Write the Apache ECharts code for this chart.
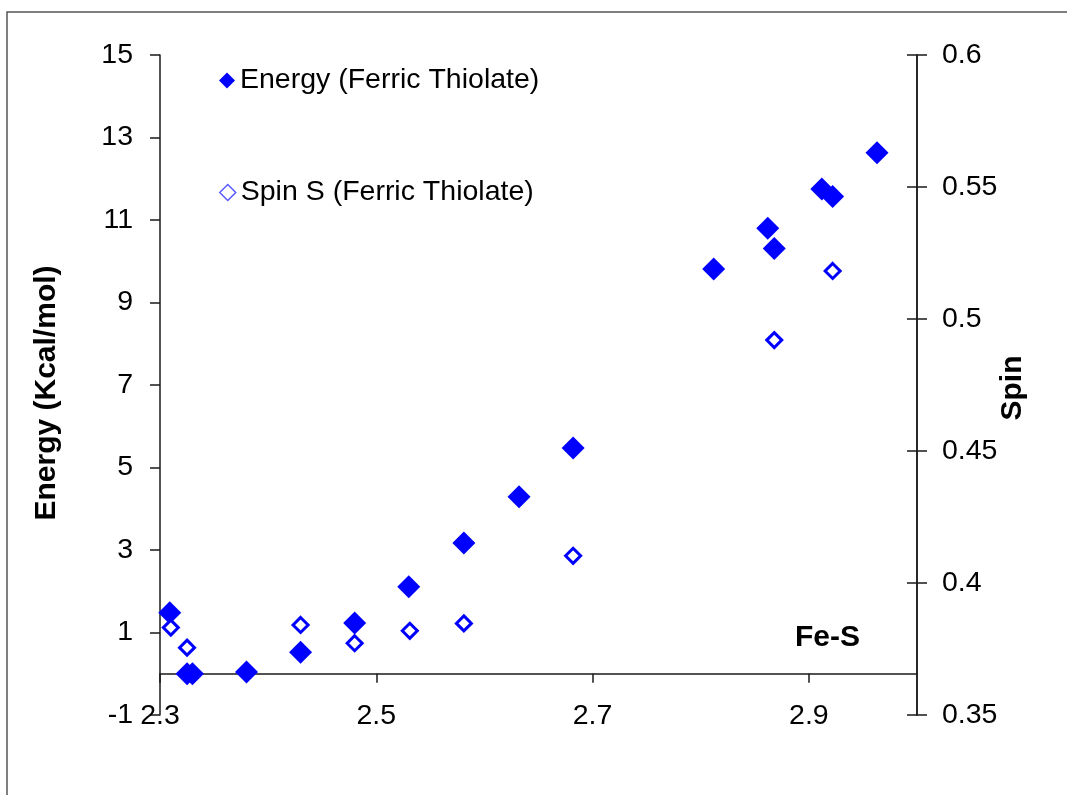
<!DOCTYPE html>
<html>
<head>
<meta charset="utf-8">
<script src="https://cdn.jsdelivr.net/npm/echarts@6/dist/echarts.min.js"></script>
<style>
  html, body { margin: 0; padding: 0; background: #fff; }
  #chart { width: 1067px; height: 795px; }
</style>
</head>
<body>
<div id="chart"></div>
<script>
// Fe-S distance (Å) and relative energy (kcal/mol), ferric thiolate scan
const feSEnergy = [2.309, 2.325, 2.330, 2.380, 2.430, 2.480, 2.530, 2.581, 2.632, 2.682, 2.812, 2.862, 2.868, 2.912, 2.922, 2.963];
const energyValues = [1.48, 0.0, 0.0, 0.04, 0.52, 1.23, 2.11, 3.17, 4.29, 5.47, 9.81, 10.80, 10.31, 11.75, 11.57, 12.63];

// Fe-S distance (Å) and spin density on S
const feSSpin = [2.310, 2.325, 2.430, 2.480, 2.531, 2.581, 2.682, 2.868, 2.922];
const spinValues = [0.3831, 0.3755, 0.3841, 0.3772, 0.3819, 0.3847, 0.4103, 0.4920, 0.5182];

// Tick positions
const feSTicks = [2.3, 2.5, 2.7, 2.9];
const energyTicks = [-1, 1, 3, 5, 7, 9, 11, 13, 15];
const spinTicks = [0.35, 0.4, 0.45, 0.5, 0.55, 0.6];

const FONT = '"Liberation Sans", Arial, sans-serif';
const BLUE = '#0000ff';
const lineStyle = { color: '#1a1a1a', width: 1.5 };
const tickText = { fontFamily: FONT, fontSize: 28.5, color: '#000' };
const titleText = { fontFamily: FONT, fontSize: 30, fontWeight: 'bold', color: '#000' };

const zip = (xs, ys) => xs.map((x, i) => [x, ys[i]]);

const chart = echarts.init(document.getElementById('chart'), null, { renderer: 'canvas' });

chart.setOption({
  animation: false,
  backgroundColor: '#fff',
  grid: { left: 160, right: 150, top: 55, bottom: 80 },
  graphic: [{
    type: 'rect',
    silent: true,
    shape: { x: 7, y: 12, width: 1200, height: 900 },
    style: { fill: 'none', stroke: '#555', lineWidth: 1.5 }
  }],
  legend: [
    {
      data: [{ name: 'Energy (Ferric Thiolate)', itemStyle: { color: BLUE } }],
      left: 219, top: 66, padding: 0,
      icon: 'diamond', itemWidth: 16, itemHeight: 16,
      selectedMode: false,
      textStyle: { fontFamily: FONT, fontSize: 28.5, color: '#000', lineHeight: 28 }
    },
    {
      data: [{ name: 'Spin S (Ferric Thiolate)', itemStyle: { color: '#fff', borderColor: '#5a5aff', borderWidth: 1.5 } }],
      left: 219, top: 178, padding: 0,
      icon: 'diamond', itemWidth: 16, itemHeight: 16,
      selectedMode: false,
      textStyle: { fontFamily: FONT, fontSize: 28.5, color: '#000', lineHeight: 28 }
    }
  ],
  xAxis: [
    {
      // axis line crossing at Energy = 0
      type: 'value', min: 2.3, max: 3.0,
      axisLine: { show: true, onZero: true, onZeroAxisIndex: 0, lineStyle },
      axisTick: { show: true, length: 9, customValues: feSTicks, lineStyle },
      axisLabel: { show: false },
      splitLine: { show: false },
      name: 'Fe-S', nameLocation: 'end', nameGap: -57,
      nameTextStyle: Object.assign({}, titleText, { align: 'right', verticalAlign: 'bottom', padding: [0, 0, 21, 0] })
    },
    {
      // tick labels along the bottom of the plot area
      type: 'value', min: 2.3, max: 3.0, position: 'bottom',
      axisLine: { show: false, onZero: false },
      axisTick: { show: false },
      splitLine: { show: false },
      axisLabel: Object.assign({ customValues: feSTicks, margin: 1, verticalAlign: 'middle' }, tickText)
    }
  ],
  yAxis: [
    {
      type: 'value', min: -1, max: 15, position: 'left',
      axisLine: { show: true, onZero: false, lineStyle },
      axisTick: { show: true, length: 10, customValues: energyTicks, lineStyle },
      axisLabel: Object.assign({ customValues: energyTicks, margin: 27 }, tickText),
      splitLine: { show: false },
      name: 'Energy (Kcal/mol)', nameLocation: 'middle', nameGap: 98, nameRotate: 90,
      nameTextStyle: Object.assign({}, titleText, { padding: [0, 16, 0, 0] })
    },
    {
      type: 'value', min: 0.35, max: 0.6, position: 'right',
      axisLine: { show: true, onZero: false, lineStyle },
      axisTick: { show: true, length: 10, customValues: spinTicks, lineStyle },
      axisLabel: Object.assign({ customValues: spinTicks, margin: 25, formatter: v => String(+v.toFixed(2)) }, tickText),
      splitLine: { show: false },
      name: 'Spin', nameLocation: 'middle', nameGap: 81, nameRotate: 90, nameMoveOverlap: false,
      nameTextStyle: Object.assign({}, titleText, { padding: [0, 6, 0, 0] })
    },
    {
      // inner half of the crossing ticks on the spin axis (a left axis shifted onto the right edge)
      type: 'value', min: 0.35, max: 0.6, interval: 0.05, position: 'left', offset: -757,
      axisLine: { show: true, onZero: false, lineStyle },
      axisTick: { show: true, length: 10, lineStyle },
      axisLabel: { show: false },
      splitLine: { show: false }
    }
  ],
  series: [
    {
      name: 'Energy (Ferric Thiolate)',
      type: 'scatter',
      xAxisIndex: 0, yAxisIndex: 0,
      symbol: 'diamond', symbolSize: 23,
      itemStyle: { color: BLUE, opacity: 1 },
      data: zip(feSEnergy, energyValues),
      z: 2
    },
    {
      name: 'Spin S (Ferric Thiolate)',
      type: 'scatter',
      xAxisIndex: 0, yAxisIndex: 1,
      symbol: 'diamond', symbolSize: 15,
      itemStyle: { color: '#fff', borderColor: BLUE, borderWidth: 3, opacity: 1 },
      data: zip(feSSpin, spinValues),
      z: 3
    }
  ]
});
</script>
</body>
</html>
